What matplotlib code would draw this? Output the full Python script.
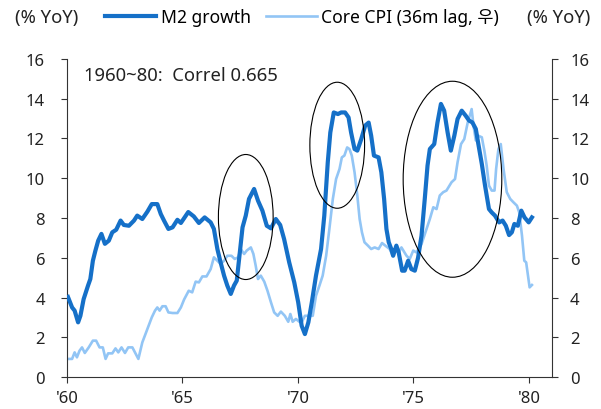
import matplotlib.pyplot as plt
from matplotlib.patches import Ellipse

plt.rcParams['font.family'] = ['Noto Sans', 'Noto Sans CJK KR', 'DejaVu Sans']

# M2 growth, % YoY (decimal year, value)
m2_year = [1960.04, 1960.22, 1960.33, 1960.48, 1960.58, 1960.72, 1960.91, 1961.01,
           1961.12, 1961.23, 1961.35, 1961.49, 1961.64, 1961.81, 1961.96, 1962.13,
           1962.32, 1962.46, 1962.68, 1962.90, 1963.04, 1963.26, 1963.48, 1963.67,
           1963.91, 1964.06, 1964.20, 1964.39, 1964.57, 1964.78, 1964.93, 1965.25,
           1965.49, 1965.71, 1965.96, 1966.22, 1966.36, 1966.51, 1966.65, 1966.80,
           1966.94, 1967.09, 1967.23, 1967.35, 1967.45, 1967.60, 1967.74, 1967.88,
           1968.10, 1968.27, 1968.46, 1968.65, 1968.83, 1969.04, 1969.23, 1969.40,
           1969.62, 1969.84, 1970.01, 1970.16, 1970.30, 1970.45, 1970.60, 1970.78,
           1971.00, 1971.14, 1971.29, 1971.40, 1971.55, 1971.73, 1971.87, 1972.04,
           1972.19, 1972.30, 1972.45, 1972.57, 1972.74, 1972.91, 1973.06, 1973.17,
           1973.29, 1973.49, 1973.61, 1973.73, 1973.83, 1973.93, 1974.04, 1974.12,
           1974.26, 1974.36, 1974.51, 1974.62, 1974.77, 1974.91, 1975.06, 1975.20,
           1975.35, 1975.49, 1975.61, 1975.71, 1975.90, 1976.04, 1976.19, 1976.33,
           1976.48, 1976.62, 1976.77, 1976.91, 1977.09, 1977.26, 1977.41, 1977.55,
           1977.70, 1977.81, 1977.96, 1978.10, 1978.27, 1978.39, 1978.53, 1978.71,
           1978.86, 1979.00, 1979.14, 1979.26, 1979.37, 1979.52, 1979.67, 1979.81,
           1979.99, 1980.13]
m2_val = [4.03, 3.50, 3.34, 2.75, 3.08, 3.92, 4.60, 4.93,
          5.85, 6.36, 6.86, 7.20, 6.70, 6.86, 7.28, 7.41,
          7.87, 7.65, 7.61, 7.87, 8.12, 7.95, 8.32, 8.70,
          8.70, 8.20, 7.87, 7.45, 7.53, 7.91, 7.75, 8.30,
          8.08, 7.75, 8.03, 7.78, 7.45, 6.44, 5.77, 5.10,
          4.60, 4.18, 4.60, 4.85, 5.94, 7.53, 8.12, 8.96,
          9.46, 8.87, 8.37, 7.61, 7.48, 7.95, 7.65, 6.94,
          5.77, 4.76, 3.76, 2.58, 2.16, 2.75, 3.76, 5.10,
          6.44, 8.12, 10.80, 12.30, 13.31, 13.23, 13.31, 13.31,
          13.06, 12.30, 11.47, 11.39, 11.97, 12.65, 12.80, 12.14,
          11.14, 11.05, 10.30, 8.96, 7.45, 6.78, 6.44, 6.10,
          6.61, 6.27, 5.35, 5.35, 5.85, 5.43, 5.35, 6.00,
          7.11, 8.96, 10.64, 11.47, 11.72, 12.80, 13.74, 13.40,
          12.30, 11.39, 12.14, 12.98, 13.40, 13.15, 12.90, 12.81,
          12.48, 11.72, 10.72, 9.63, 8.45, 8.28, 8.12, 7.78,
          7.87, 7.61, 7.14, 7.28, 7.70, 7.61, 8.37, 8.03,
          7.78, 8.03]

# Core CPI, % YoY, shifted forward 36 months
cpi_year = [1960.04, 1960.22, 1960.33, 1960.43, 1960.54, 1960.65, 1960.77, 1960.94,
            1961.12, 1961.26, 1961.41, 1961.55, 1961.67, 1961.78, 1961.96, 1962.10,
            1962.22, 1962.36, 1962.51, 1962.65, 1962.83, 1962.94, 1963.09, 1963.26,
            1963.48, 1963.67, 1963.81, 1963.91, 1964.01, 1964.13, 1964.27, 1964.39,
            1964.57, 1964.78, 1964.93, 1965.07, 1965.27, 1965.42, 1965.57, 1965.71,
            1965.86, 1966.04, 1966.22, 1966.36, 1966.51, 1966.65, 1966.80, 1966.94,
            1967.12, 1967.26, 1967.41, 1967.52, 1967.67, 1967.78, 1967.96, 1968.07,
            1968.17, 1968.27, 1968.39, 1968.54, 1968.68, 1968.83, 1968.97, 1969.12,
            1969.26, 1969.43, 1969.58, 1969.67, 1969.77, 1969.91, 1970.06, 1970.16,
            1970.30, 1970.49, 1970.64, 1970.78, 1970.93, 1971.07, 1971.22, 1971.36,
            1971.51, 1971.65, 1971.80, 1971.90, 1972.01, 1972.13, 1972.23, 1972.33,
            1972.45, 1972.57, 1972.67, 1972.77, 1972.88, 1973.03, 1973.17, 1973.32,
            1973.49, 1973.64, 1973.78, 1973.97, 1974.07, 1974.22, 1974.36, 1974.48,
            1974.70, 1974.84, 1974.99, 1975.13, 1975.35, 1975.57, 1975.71, 1975.86,
            1976.00, 1976.14, 1976.29, 1976.43, 1976.65, 1976.80, 1976.91, 1977.06,
            1977.20, 1977.35, 1977.52, 1977.60, 1977.70, 1977.81, 1977.96, 1978.07,
            1978.17, 1978.27, 1978.39, 1978.51, 1978.58, 1978.68, 1978.78, 1978.90,
            1979.04, 1979.19, 1979.33, 1979.48, 1979.58, 1979.70, 1979.80, 1979.88,
            1979.96, 1980.03, 1980.13]
cpi_val = [0.91, 0.91, 1.24, 0.99, 1.32, 1.49, 1.21, 1.49,
           1.83, 1.83, 1.49, 1.49, 0.91, 1.19, 1.19, 1.44,
           1.24, 1.49, 1.21, 1.49, 1.49, 1.24, 0.91, 1.74,
           2.42, 3.00, 3.34, 3.50, 3.34, 3.56, 3.56, 3.25,
           3.22, 3.22, 3.50, 3.90, 4.34, 4.26, 4.80, 4.76,
           5.06, 5.06, 5.43, 6.02, 5.85, 5.69, 5.85, 6.10,
           6.10, 5.94, 6.02, 6.44, 6.19, 6.36, 6.52, 6.19,
           5.60, 4.93, 5.10, 4.80, 4.34, 3.76, 3.25, 3.08,
           3.29, 3.08, 2.78, 3.17, 2.78, 2.92, 2.78, 2.75,
           3.08, 3.08, 3.08, 4.09, 4.60, 5.10, 6.10, 7.45,
           8.96, 9.96, 10.47, 11.05, 11.14, 11.55, 11.47, 11.14,
           10.30, 9.13, 7.95, 7.28, 6.78, 6.61, 6.44, 6.52,
           6.44, 6.74, 6.61, 6.44, 6.19, 6.44, 6.27, 6.52,
           6.10, 5.94, 6.36, 6.27, 6.69, 7.45, 7.95, 8.54,
           8.45, 9.13, 9.30, 9.38, 9.80, 9.96, 10.80, 11.72,
           11.97, 12.80, 13.48, 12.65, 11.90, 12.14, 12.06, 11.39,
           10.64, 9.63, 9.38, 9.38, 10.47, 11.47, 11.72, 10.47,
           9.30, 8.96, 8.79, 8.62, 8.28, 7.11, 5.85, 5.77,
           5.10, 4.51, 4.63]

x_ticks = [1960, 1965, 1970, 1975, 1980]
x_labels = ["'60", "'65", "'70", "'75", "'80"]
y_ticks = [0, 2, 4, 6, 8, 10, 12, 14, 16]

# highlighted episodes: (center year, center value, width in years, height in %p)
episodes = [(1967.74, 8.05, 2.37, 6.29),
            (1971.70, 11.66, 2.37, 6.34),
            (1976.69, 9.95, 4.27, 9.86)]

m2_color = '#1570c8'
cpi_color = '#92c5f5'
text_color = '#222222'
axis_color = '#333333'

fig = plt.figure(figsize=(6.01, 4.10), dpi=100)
ax = fig.add_axes([0.1115, 0.078, 0.807, 0.7757])

ax.plot(cpi_year, cpi_val, color=cpi_color, lw=1.9, label='Core CPI (36m lag, 우)', zorder=2)
ax.plot(m2_year, m2_val, color=m2_color, lw=3.0, label='M2 growth', zorder=3)

for cx, cy, w, h in episodes:
    ax.add_patch(Ellipse((cx, cy), w, h, fill=False, ec='black', lw=0.8, zorder=4))

ax.set_xlim(1960, 1981)
ax.set_ylim(0, 16)
ax.set_xticks(x_ticks)
ax.set_xticklabels(x_labels)
ax.set_yticks(y_ticks)
ax.spines['top'].set_visible(False)
ax.spines['right'].set_visible(False)
for s in ['left', 'bottom']:
    ax.spines[s].set_color(axis_color)
ax.tick_params(axis='both', labelsize=12, colors=axis_color, labelcolor=text_color,
               length=4, width=0.8, direction='out')
ax.tick_params(axis='x', pad=5)
ax.tick_params(axis='y', pad=12)

ax2 = ax.twinx()
ax2.set_ylim(0, 16)
ax2.set_yticks(y_ticks)
for s in ['top', 'left', 'bottom']:
    ax2.spines[s].set_visible(False)
ax2.spines['right'].set_color(axis_color)
ax2.tick_params(axis='y', labelsize=12, colors=axis_color, labelcolor=text_color,
                length=4, width=0.8, direction='out', pad=9)

ax.text(1960.75, 15.2, '1960~80:  Correl 0.665', fontsize=13.3, color=text_color,
        va='center', ha='left')

handles, labels = ax.get_legend_handles_labels()
fig.legend(handles[::-1], labels[::-1], loc='center', bbox_to_anchor=(0.503, 0.955),
           ncol=2, frameon=False, fontsize=12.6, handlelength=2.9, handletextpad=0.25,
           columnspacing=0.9)
fig.text(15 / 601, 0.955, '(% YoY)', fontsize=13.3, color=text_color, va='center', ha='left')
fig.text(590 / 601, 0.955, '(% YoY)', fontsize=13.3, color=text_color, va='center', ha='right')

fig.savefig('out.png', dpi=100)
